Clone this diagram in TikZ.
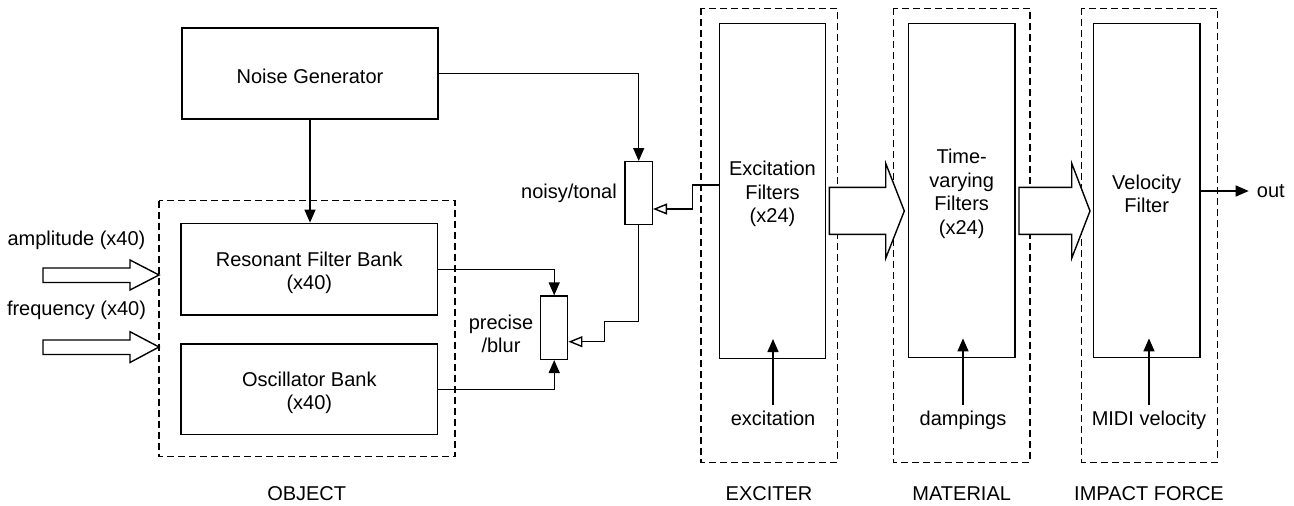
\documentclass[tikz,border=0pt]{standalone}
\usepackage{fontspec}
\setmainfont{Liberation Sans}
\usetikzlibrary{arrows.meta}
\begin{document}
\begin{tikzpicture}[x=1pt,y=-1pt,
  every node/.style={font=\fontsize{20}{23.5}\selectfont, inner sep=0pt},
  blk/.style={draw, line width=1.4pt},
  txt/.style={align=center},
  dashbox/.style={draw, line width=1.3pt, dash pattern=on 7pt off 4pt},
  conn/.style={line width=1.4pt},
  arr/.style={conn, -{Triangle[length=13pt,width=11pt]}},
  oarr/.style={conn, -{Triangle[open,length=14pt,width=11pt]}},
  bigarr/.style={draw, line width=1.4pt, fill=white, line join=miter}
]
\useasboundingbox (0,0) rectangle (1294,506);

% dashed groups
\draw[dashbox] (159,200.7) rectangle (455,456.7);
\draw[dashbox] (701,8.3) rectangle (837.7,462.3);
\draw[dashbox] (893.3,8.3) rectangle (1030,462.3);
\draw[dashbox] (1081.7,8.3) rectangle (1217.7,462.3);

% blocks
\node[blk, minimum width=256pt, minimum height=91pt] (ng) at (310,73.5) {};
\node[blk, minimum width=256.7pt, minimum height=91.7pt] (res) at (309.3,269.2) {};
\node[blk, minimum width=256.7pt, minimum height=90.3pt] (osc) at (309.3,389.2) {};
\node[blk, minimum width=27.3pt, minimum height=62.6pt] (nt) at (638.7,193) {};
\node[blk, minimum width=27pt, minimum height=63.3pt] (pb) at (554.2,327.7) {};
\node[blk, minimum width=106.4pt, minimum height=335pt] (exc) at (772.5,190.8) {};
\node[blk, minimum width=106.7pt, minimum height=334.4pt] (mat) at (961.7,190.5) {};
\node[blk, minimum width=106.7pt, minimum height=334.4pt] (vel) at (1146.7,190.5) {};

% block texts
\node[txt] (ngt) at ([yshift=-3pt]ng.center) {Noise Generator};
\node[txt] (rest) at ([yshift=-3.5pt]res.center) {Resonant Filter Bank\\(x40)};
\node[txt] (osct) at ([yshift=-3.5pt]osc.center) {Oscillator Bank\\(x40)};
\node[txt] (exct) at ([yshift=-3.5pt]exc.center) {Excitation\\Filters\\(x24)};
\node[txt] (matt) at ([yshift=-3.5pt]mat.center) {Time-\\varying\\Filters\\(x24)};
\node[txt] (velt) at ([yshift=-3.5pt]vel.center) {Velocity\\Filter};

% labels
\node (amp) at (76.5,240) {amplitude (x40)};
\node (freq) at (76.5,310.7) {frequency (x40)};
\node[anchor=east] (ntl) at (617,193.5) {noisy/tonal};
\node[align=center] (pbl) at (501,334) {precise\\/blur};
\node[anchor=base] (excl) at (773,425) {excitation};
\node[anchor=base] (dampl) at (963,425) {dampings};
\node[anchor=base] (midil) at (1149,425) {MIDI velocity};
\node[anchor=west] (outl) at (1256.7,191) {out};
\node[anchor=base] (objl) at (306.7,500.5) {OBJECT};
\node[anchor=base] (excitl) at (769,500.5) {EXCITER};
\node[anchor=base] (matl) at (961.7,500.5) {MATERIAL};
\node[anchor=base] (impl) at (1149,500.5) {IMPACT FORCE};

% connectors
\draw[arr] (ng.south) -- (ng.south |- res.north);
\draw[arr] (ng.east) -| (nt.north);
\draw[arr] (res.east) -| (pb.north);
\draw[arr] (osc.east) -| (pb.south);
\draw[oarr] (nt.south) |- (604.3,321.7) |- ([yshift=-14pt]pb.east);
\draw[oarr] ([yshift=5.8pt]exc.west) -| (692.7,209) -- ([yshift=-16pt]nt.east);
\draw[arr] ([yshift=20pt]excl.base) -- ([yshift=20pt]excl.base |- exc.south);
\draw[arr] ([yshift=20pt]dampl.base) -- ([yshift=20pt]dampl.base |- mat.south);
\draw[arr] ([yshift=20pt]midil.base) -- ([yshift=20pt]midil.base |- vel.south);
\draw[arr] (vel.east |- outl.west) -- ([xshift=-8pt]outl.west);

% big arrows between stages
\draw[bigarr] (829.3,187.3) -- (885.7,187.3) -- (885.7,163.3) -- (904.3,211) -- (885.7,258.3) -- (885.7,234.3) -- (829.3,234.3) -- cycle;
\draw[bigarr] (1019,187.3) -- (1071.7,187.3) -- (1071.7,163.3) -- (1090,211) -- (1071.7,258.3) -- (1071.7,234.3) -- (1019,234.3) -- cycle;

% wide input arrows
\draw[bigarr] (43,268) -- (130,268) -- (130,260) -- (159,275) -- (130,290) -- (130,282.5) -- (43,282.5) -- cycle;
\draw[bigarr] (43,340) -- (130,340) -- (130,331.7) -- (159,347) -- (130,362.5) -- (130,354.5) -- (43,354.5) -- cycle;
\end{tikzpicture}
\end{document}
